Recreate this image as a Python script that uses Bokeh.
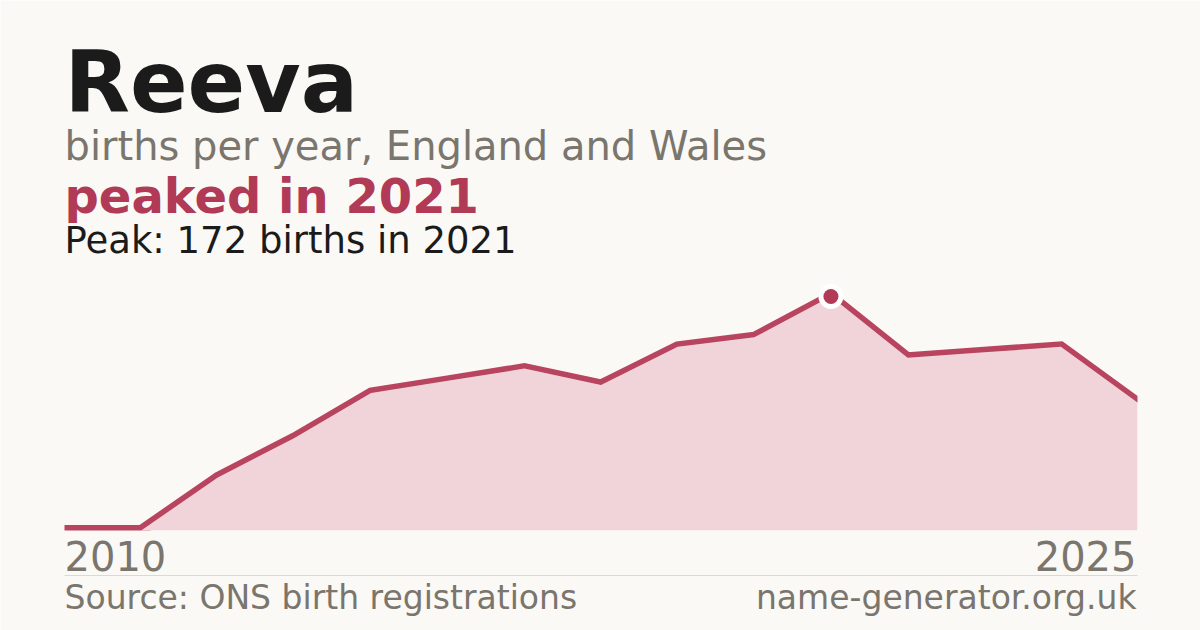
from bokeh.plotting import figure
from bokeh.models import Label, Range1d
from bokeh.embed import file_html
from bokeh.resources import INLINE

# ---- data ----
years = [2010, 2011, 2012, 2013, 2014, 2015, 2016, 2017, 2018, 2019, 2021, 2022, 2023, 2024, 2025]
births = [0, 0, 39, 68, 101, 110, 119, 107, 135, 142, 172, 127, 131, 135, 94]
name = "Reeva"
subtitle = "births per year, England and Wales"
source = "Source: ONS birth registrations"
site = "name-generator.org.uk"

BG = "#faf9f5"
CRIMSON = "#b13a56"
LINE = "#b8445f"
FILL = "#f1d4da"
GRAY = "#7a756d"
DARK = "#1b1b1b"
RULE = "#dcd9d2"
FONT = "DejaVu Sans"

W, H = 1200, 630
idx = list(range(len(years)))
peak_i = max(idx, key=lambda i: births[i])
peak_year = years[peak_i]
peak_val = births[peak_i]

# plot area in page pixels: x 64..1137, baseline y 530, peak at y 296
XS = (1137 - 64) / (len(years) - 1)
YS = 234 / peak_val
def dx(px):
    return (px - 64) / XS
def dy(py):
    return (530 - py) / YS

p = figure(width=W, height=H, output_backend="svg", toolbar_location=None,
           x_range=Range1d(dx(0), dx(W)), y_range=Range1d(dy(H), dy(0)),
           x_axis_location=None, y_axis_location=None,
           min_border=0, min_border_left=0, min_border_right=0,
           min_border_top=0, min_border_bottom=0,
           background_fill_color=BG, border_fill_color=BG, outline_line_color=None)
p.grid.visible = False

x_last = len(years) - 1
p.line(idx, births, line_color=LINE, line_width=11, line_join="miter")
p.varea(x=idx, y1=[0] * len(idx), y2=births, fill_color=FILL)
# masks that clip the line to the plot area (below baseline, right of last year)
p.quad(left=dx(0), right=dx(W), top=0, bottom=dy(H), fill_color=BG, line_color=None)
p.quad(left=x_last, right=dx(W), top=dy(0), bottom=dy(H), fill_color=BG, line_color=None)
p.scatter([peak_i], [peak_val], size=25, marker="circle", fill_color="white", line_color=None)
p.scatter([peak_i], [peak_val], size=15, marker="circle", fill_color=CRIMSON, line_color=None)

# rule above footer
p.segment(x0=[0], y0=[dy(575)], x1=[x_last], y1=[dy(575)], line_color=RULE, line_width=1)

def lab(text, px, py, size, color, bold=False, align="left"):
    # compensate for where Bokeh puts the alphabetic baseline
    py = py - 0.36 * size
    p.add_layout(Label(x=dx(px), y=dy(py), text=text, text_font=FONT,
                       text_font_size=f"{size}px", text_color=color,
                       text_font_style="bold" if bold else "normal",
                       text_align=align, text_baseline="alphabetic"))

lab(name, 64, 113, 85, DARK, bold=True)
lab(subtitle, 64, 160, 40, GRAY)
lab(f"peaked in {peak_year}", 64, 213, 48, CRIMSON, bold=True)
lab(f"Peak: {peak_val} births in {peak_year}", 64, 253, 37, DARK)
lab(str(years[0]), 64, 570, 40, GRAY)
lab(str(years[-1]), 1136, 570, 40, GRAY, align="right")
lab(source, 64, 609, 33, GRAY)
lab(site, 1136, 609, 33, GRAY, align="right")

html = file_html(p, INLINE)
html = html.replace("<body>", f'<body style="background:{BG};">', 1)
open("out.html", "w").write(html)
